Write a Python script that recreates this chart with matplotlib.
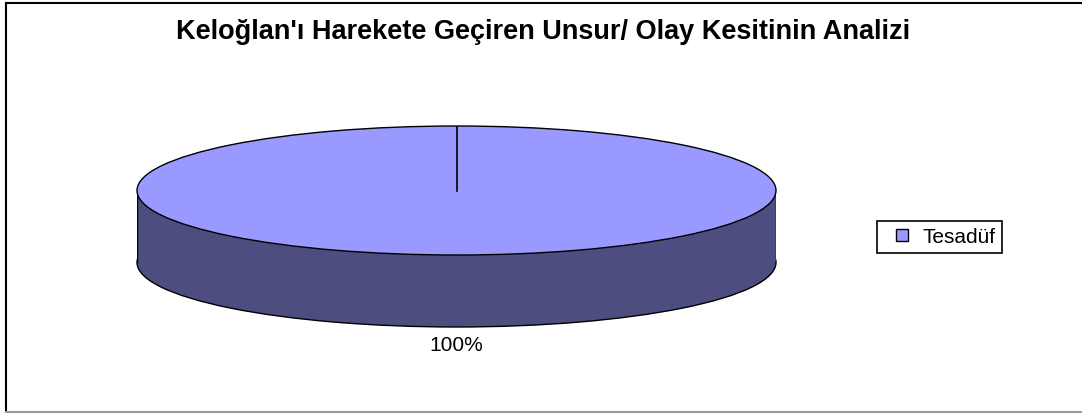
import matplotlib
matplotlib.use('Agg')
from matplotlib import pyplot as plt
from matplotlib.patches import Rectangle
from matplotlib.lines import Line2D

plt.rcParams['font.family'] = ['Liberation Sans', 'DejaVu Sans']

# veriler
labels = ['Tesadüf']
values = [100]
title = "Keloğlan'ı Harekete Geçiren Unsur/ Olay Kesitinin Analizi"

top_color = '#9999ff'
side_color = '#4d4d80'
depth = 1.116   # yan yüzey kalınlığı (yarıçap birimi)

W, H = 1082, 414
fig = plt.figure(figsize=(W / 100, H / 100), dpi=100)

# grafik alanı çerçevesi
fig.add_artist(Line2D([6 / W, 6 / W], [0, 1 - 4 / H], color='black', lw=1.5))
fig.add_artist(Line2D([6 / W, 1], [1 - 4 / H, 1 - 4 / H], color='black', lw=1.5))
fig.add_artist(Line2D([6 / W, 1], [1 / H, 1 / H], color='#999999', lw=1.5))

fig.text(543.5 / W, 1 - 32 / H, title, ha='center', va='center',
         fontsize=19.5, fontweight='bold')

# pasta alanı: x 137..776 px, y 127..328 px
ax = fig.add_axes([137 / W, (H - 328) / H, 639 / W, 201 / H])

# alt yüz (koyu)
bottom_w, _, pct = ax.pie(values, startangle=90, counterclock=False,
                          center=(0, -depth), radius=1,
                          colors=[side_color], autopct='%.0f%%', pctdistance=1.27,
                          wedgeprops=dict(edgecolor='black', linewidth=1, zorder=1),
                          textprops=dict(fontsize=15, color='black'))
# yan yüzey
ax.add_patch(Rectangle((-1, -depth), 2, depth, facecolor=side_color,
                       edgecolor='none', zorder=2))
ax.plot([-1, -1], [0, -depth], color='black', lw=1, zorder=3)
ax.plot([1, 1], [0, -depth], color='black', lw=1, zorder=3)

# üst yüz
top_w, _ = ax.pie(values, startangle=90, counterclock=False, radius=1,
                  colors=[top_color],
                  wedgeprops=dict(edgecolor='black', linewidth=1, zorder=4))
ax.plot([0, 0], [0, 1], color='black', lw=1.2, zorder=5)

ax.set_aspect('auto')
ax.set_xlim(-1, 1)
ax.set_ylim(-1 - depth, 1)
ax.axis('off')

# lejant: küçük kare işaret
handles = [Line2D([], [], ls='none', marker='s', markersize=9,
                  markerfacecolor=w.get_facecolor(), markeredgecolor='black',
                  markeredgewidth=1) for w in top_w]
leg = fig.legend(handles, labels, loc='center left',
                 bbox_to_anchor=(877 / W, 1 - 238 / H),
                 fontsize=15, fancybox=False, framealpha=1,
                 edgecolor='black', handlelength=1.8,
                 borderpad=0.3, handletextpad=0.1, borderaxespad=0)
leg.get_frame().set_linewidth(1.2)

fig.savefig('out.png', dpi=100)
